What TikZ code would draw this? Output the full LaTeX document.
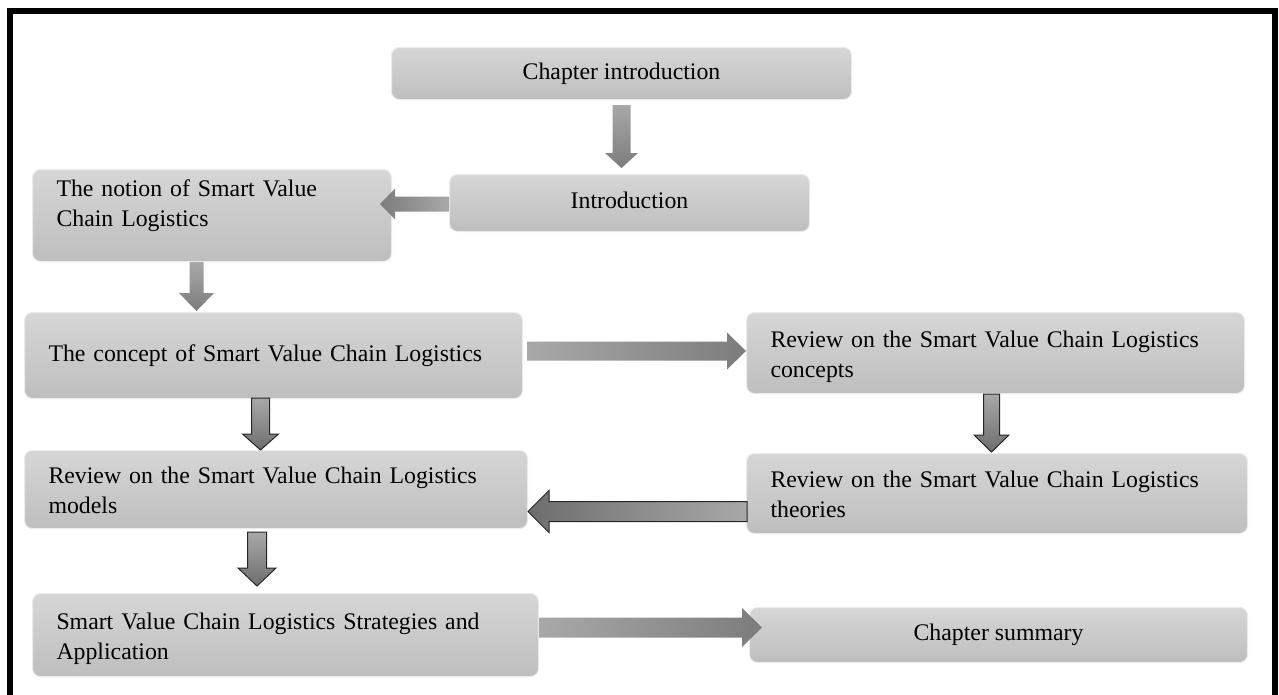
\documentclass[tikz,border=0pt]{standalone}
\usepackage{fontspec}
\setmainfont{Liberation Serif}
\usetikzlibrary{calc}

\definecolor{boxtop}{RGB}{214,214,214}
\definecolor{boxbot}{RGB}{190,190,190}
\definecolor{arrlight}{RGB}{168,168,168}
\definecolor{arrdark}{RGB}{124,124,124}
\definecolor{arrdeep}{RGB}{110,110,110}

% vertical block arrow: style, tail point, tip point (y only), shaft half width, head half width, head length
\newcommand\vblock[6]{%
  \path[#1] let \p1=#2, \p2=#3 in
    ({\x1-#4},\y1) -- ({\x1+#4},\y1) -- ({\x1+#4},{\y2+#6}) -- ({\x1+#5},{\y2+#6})
    -- (\x1,\y2) -- ({\x1-#5},{\y2+#6}) -- ({\x1-#4},{\y2+#6}) -- cycle;}
% horizontal block arrow: style, tail point, tip point (x only), shaft half width, head half width,
% signed head length (positive for an arrow pointing left)
\newcommand\hblock[6]{%
  \path[#1] let \p1=#2, \p2=#3 in
    (\x1,{\y1+#4}) -- ({\x2+#6},{\y1+#4}) -- ({\x2+#6},{\y1+#5}) -- (\x2,\y1)
    -- ({\x2+#6},{\y1-#5}) -- ({\x2+#6},{\y1-#4}) -- (\x1,{\y1-#4}) -- cycle;}

\tikzset{
  box/.style={rounded corners=8pt, top color=boxtop, bottom color=boxbot,
    draw=black!8, line width=1pt, anchor=north west, inner ysep=0pt,
    font=\fontsize{23.8pt}{30pt}\selectfont, text=black},
  cbox/.style={box, align=center, text height=16pt, text depth=5pt},
  lbox/.style={box, align=left, inner xsep=24pt, text width=#1},
  oneline/.style={text height=16pt, text depth=5pt},
  twoline/.style={text height=16pt, text depth=27.5pt},
  topline/.style={text height=16pt, text depth=54pt},
  downfill/.style={top color=arrlight, bottom color=arrdark, draw=none},
  leftfill/.style={left color=arrdark, right color=arrlight, draw=none},
  rightfill/.style={left color=arrlight, right color=arrdark, draw=none},
  downline/.style={top color=arrlight, bottom color=arrdeep, draw=black!85, line width=1pt},
  leftline/.style={left color=arrdeep, right color=arrlight, draw=black!85, line width=1pt},
  frame/.style={draw=black, line width=6pt},
}

\begin{document}
\begin{tikzpicture}[x=1pt, y=-1pt]
\useasboundingbox (0,0) rectangle (1279,694);

% outer frame, its lower edge runs off the page
\draw[frame] (10,10.5) rectangle (1275,720);

% boxes
\node[cbox, minimum width=460pt, minimum height=52pt] (b1) at (391,47) {Chapter introduction};
\node[cbox, minimum width=360pt, minimum height=57pt] (b2) at (449,174) {Introduction};
\node[lbox=311pt, topline, minimum width=359pt, minimum height=92pt] (b3) at (32,169)
  {The notion of Smart Value\\Chain Logistics};
\node[lbox=450pt, oneline, minimum width=498pt, minimum height=86pt] (b4) at (24,312)
  {The concept of Smart Value Chain Logistics};
\node[lbox=450pt, twoline, minimum width=498pt, minimum height=81pt] (b5) at (746,312)
  {Review on the Smart Value Chain Logistics\\concepts};
\node[lbox=455pt, twoline, minimum width=503pt, minimum height=78pt] (b6) at (24,450)
  {Review on the Smart Value Chain Logistics\\models};
\node[lbox=453pt, twoline, minimum width=501pt, minimum height=80pt] (b7) at (746,453)
  {Review on the Smart Value Chain Logistics\\theories};
\node[lbox=458pt, twoline, minimum width=506pt, minimum height=83pt] (b8) at (32,593)
  {Smart Value Chain Logistics Strategies and\\Application};
\node[cbox, minimum width=498pt, minimum height=55pt] (b9) at (749,607) {Chapter summary};

% block arrows between the boxes
\vblock{downfill}{($(b1.south)+(0,5)$)}{($(b2.north)+(0,-6)$)}{9pt}{16.5pt}{15pt}
\hblock{leftfill}{($(b2.west)+(0,1)$)}{($(b3.east)+(-12,0)$)}{7.5pt}{15.5pt}{15pt}
\vblock{downfill}{($(b3.south)+(-15.5,0)$)}{($(b4.north)+(0,-1)$)}{7pt}{17.5pt}{18pt}
\hblock{rightfill}{($(b4.east)+(4,-4.5)$)}{(b5.west)}{9.5pt}{18.5pt}{-19pt}
\vblock{downline}{($(b4.south)+(-13,-1)$)}{(b6.north)}{9pt}{18pt}{16pt}
\vblock{downline}{($(b5.south)+(-4,0)$)}{($(b7.north)+(0,-1)$)}{8pt}{17.5pt}{17pt}
\hblock{leftline}{($(b7.west)+(1,18)$)}{(b6.east)}{10pt}{21pt}{21pt}
\vblock{downline}{($(b6.south)+(-19,3)$)}{($(b8.north)+(0,-7)$)}{9.5pt}{19pt}{18pt}
\hblock{rightfill}{($(b8.east)+(0,-7.5)$)}{($(b9.west)+(13,0)$)}{10pt}{19.5pt}{-20pt}
\end{tikzpicture}
\end{document}
